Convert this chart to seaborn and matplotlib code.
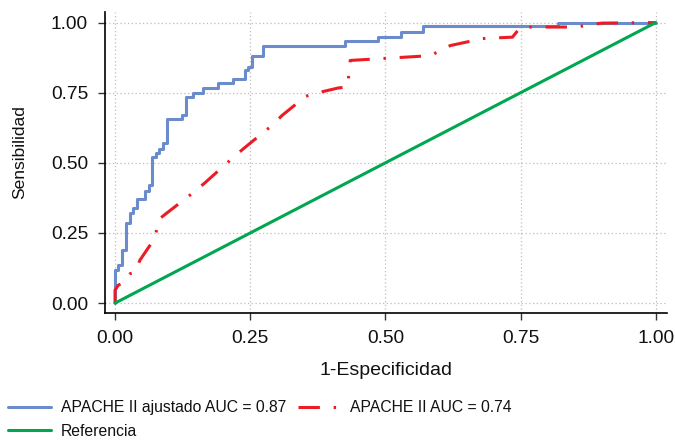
"""
plot.py
 Curva ROC: APACHE II ajustado vs APACHE II, con la diagonal de referencia.
"""

import pandas as pd
import matplotlib.pyplot as plt
import seaborn as sns

# APACHE II ajustado (curva escalonada)
fpr_ajust = [0.0, 0.0, 0.006, 0.012, 0.020, 0.028, 0.033, 0.040, 0.055, 0.063,
             0.069, 0.076, 0.081, 0.089, 0.096, 0.124, 0.131, 0.144, 0.163,
             0.191, 0.219, 0.241, 0.246, 0.254, 0.274, 0.426, 0.486, 0.528,
             0.570, 0.820, 1.0]
tpr_ajust = [0.0, 0.117, 0.135, 0.190, 0.285, 0.320, 0.340, 0.370, 0.400, 0.420,
             0.520, 0.535, 0.550, 0.570, 0.655, 0.670, 0.735, 0.750, 0.765,
             0.785, 0.800, 0.830, 0.840, 0.880, 0.918, 0.933, 0.950, 0.966,
             0.986, 1.0, 1.0]

# APACHE II
fpr_apache = [0.0, 0.0, 0.006, 0.015, 0.022, 0.028, 0.037, 0.046, 0.073, 0.082,
              0.093, 0.142, 0.167, 0.219, 0.241, 0.290, 0.309, 0.339, 0.352,
              0.380, 0.413, 0.430, 0.435, 0.583, 0.620, 0.680, 0.735, 0.750,
              0.774, 0.852, 0.900, 1.0]
tpr_apache = [0.0, 0.046, 0.064, 0.072, 0.094, 0.105, 0.110, 0.153, 0.230, 0.300,
              0.317, 0.390, 0.430, 0.520, 0.556, 0.633, 0.669, 0.716, 0.737,
              0.752, 0.767, 0.770, 0.865, 0.882, 0.918, 0.943, 0.948, 0.984,
              0.984, 0.984, 0.998, 1.0]

# Referencia
ref = [0.0, 1.0]

labels = ["APACHE II ajustado AUC = 0.87", "APACHE II AUC = 0.74", "Referencia"]

df_ajust = pd.DataFrame({"fpr": fpr_ajust, "tpr": tpr_ajust})
df_apache = pd.DataFrame({"fpr": fpr_apache, "tpr": tpr_apache})
df_ref = pd.DataFrame({"fpr": ref, "tpr": ref})

sns.set_theme(style="ticks")
plt.rcParams['font.family'] = ['Liberation Sans', 'DejaVu Sans']

fig, ax = plt.subplots(figsize=(6.75, 4.41), dpi=100)
fig.subplots_adjust(left=0.1556, right=0.9877, bottom=0.290, top=0.973)

sns.lineplot(data=df_ajust, x="fpr", y="tpr", ax=ax, estimator=None, sort=False,
             drawstyle="steps-post", color="#6b8ccc", linewidth=2.2, label=labels[0])
sns.lineplot(data=df_apache, x="fpr", y="tpr", ax=ax, estimator=None, sort=False,
             color="#ec1c24", linewidth=2.2, dashes=False, label=labels[1])
ax.lines[-1].set_dashes((7, 4.5, 0.8, 4.5))
sns.lineplot(data=df_ref, x="fpr", y="tpr", ax=ax, estimator=None, sort=False,
             color="#00a650", linewidth=2.2, label=labels[2])

ax.set_xlim(-0.0185, 1.0203)
ax.set_ylim(-0.0356, 1.038)
ticks = [0, 0.25, 0.5, 0.75, 1.0]
ax.set_xticks(ticks)
ax.set_yticks(ticks)
ax.set_xticklabels([f"{t:.2f}" for t in ticks])
ax.set_yticklabels([f"{t:.2f}" for t in ticks])
ax.tick_params(labelsize=13.8, length=4.7, width=1, color="#333333", pad=7.5,
               labelcolor="#111111")
ax.grid(True, linestyle=(0, (1, 2)), color="#bdbdbd", linewidth=0.9)
ax.set_xlabel("1-Especificidad", fontsize=14, color="#111111")
ax.set_ylabel("Sensibilidad", fontsize=12.5, color="#111111")
ax.xaxis.set_label_coords(0.5, -0.163)
ax.yaxis.set_label_coords(-0.138, 0.535)
sns.despine(ax=ax)
for side in ["left", "bottom"]:
    ax.spines[side].set_linewidth(1.2)
    ax.spines[side].set_color("black")

handles, labs = ax.get_legend_handles_labels()
ax.get_legend().remove()
order = [0, 2, 1]
fig.legend([handles[i] for i in order], [labs[i] for i in order], ncol=2,
           loc="upper left", bbox_to_anchor=(0.003, 0.107), frameon=False,
           fontsize=11.3, handlelength=2.75, columnspacing=0.75, labelspacing=0.55,
           handletextpad=0.6, borderaxespad=0.0, labelcolor="#111111")

plt.savefig("out.png", dpi=100)
